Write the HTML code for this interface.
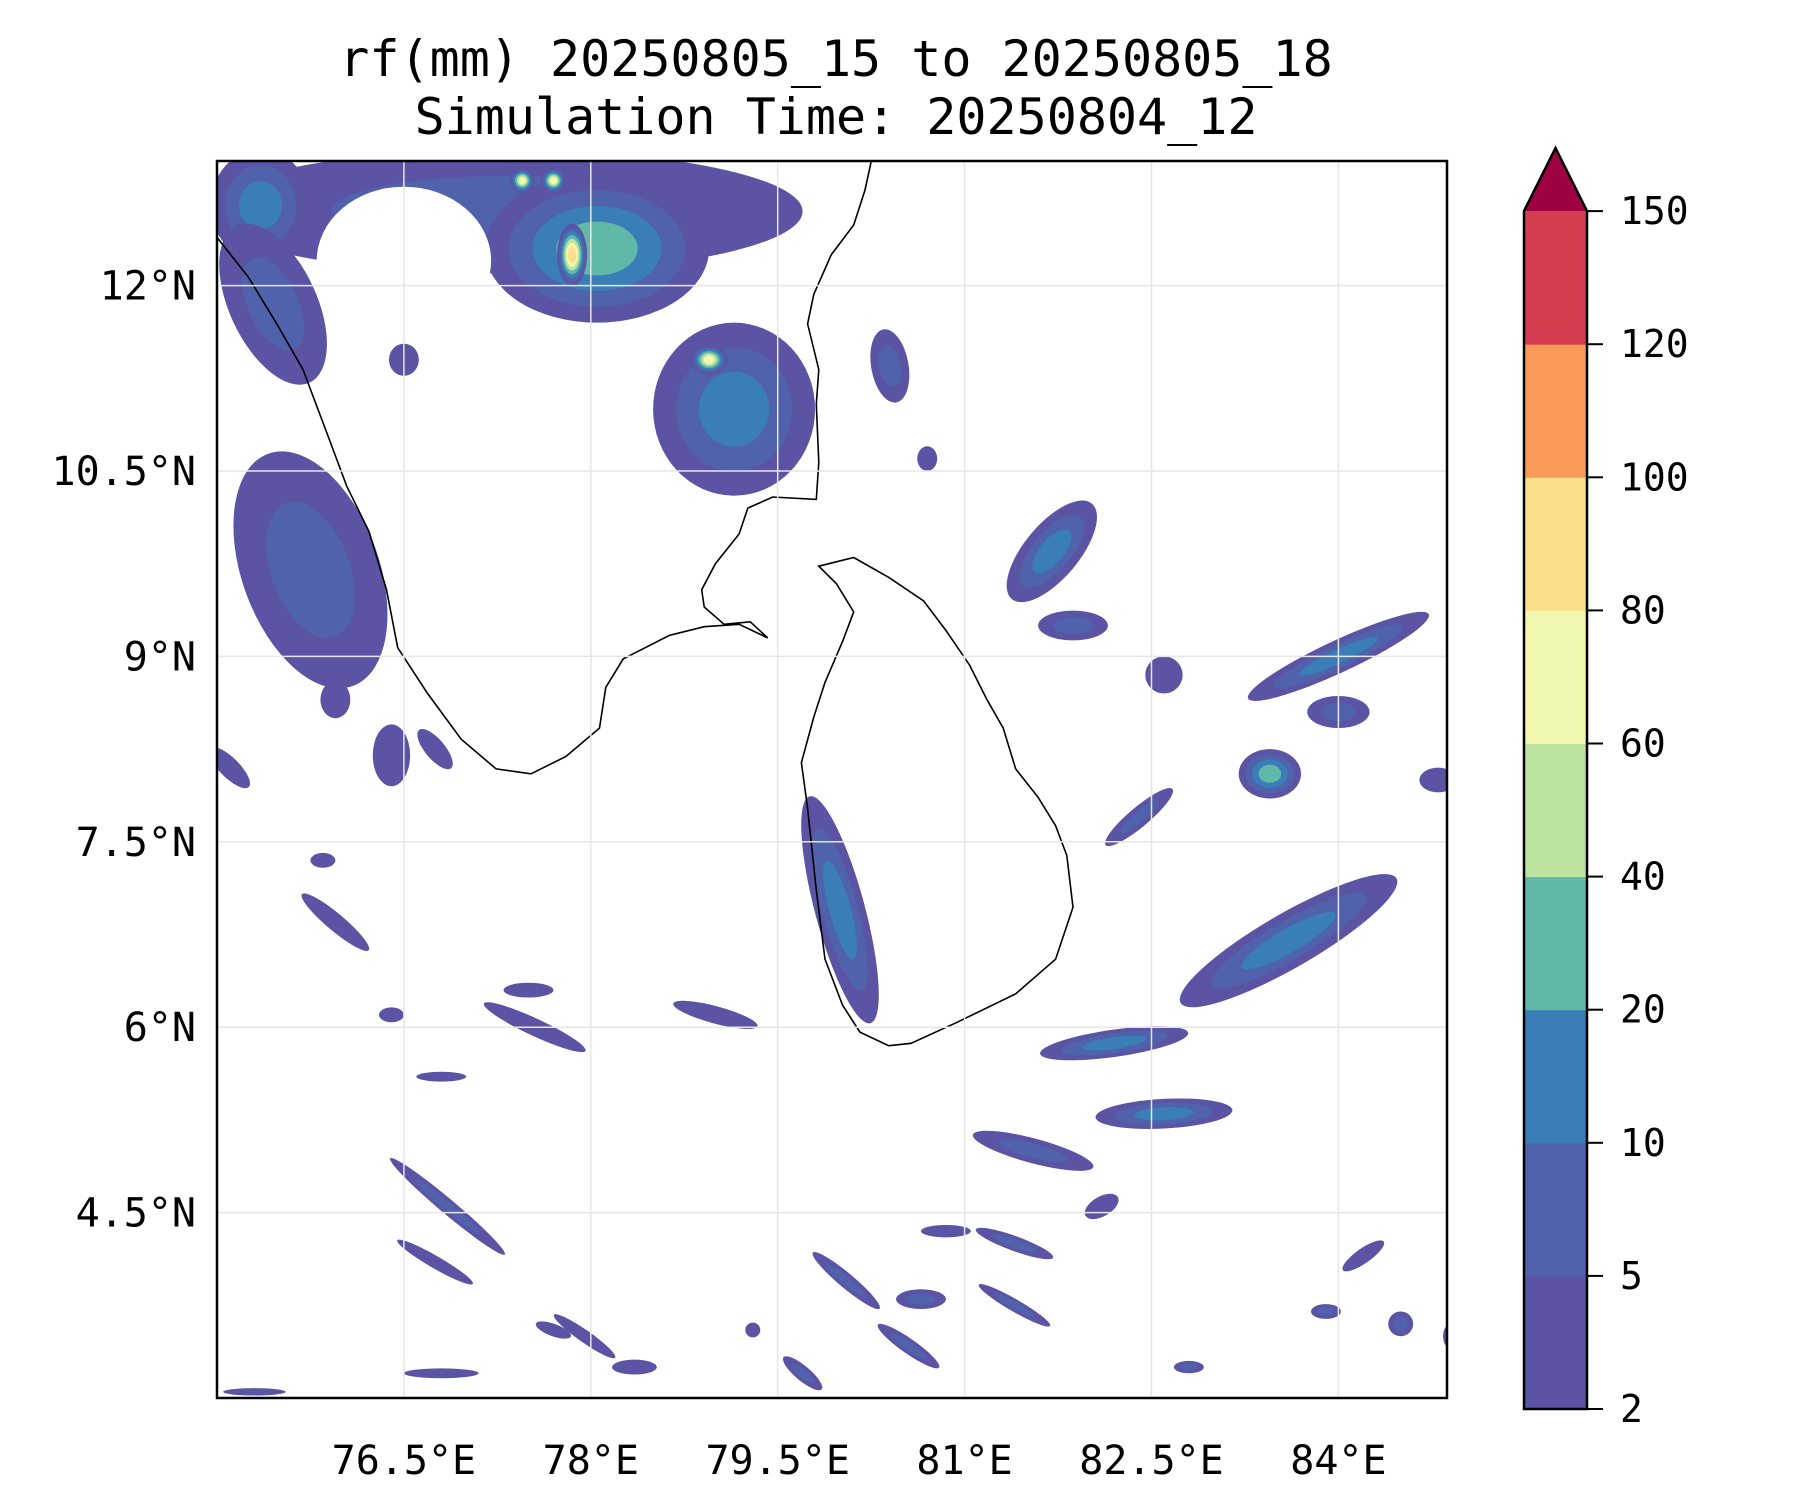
<!DOCTYPE html>
<html><head><meta charset="utf-8"><style>
html,body{margin:0;padding:0;background:#fff}
svg{display:block;font-family:"DejaVu Sans Mono","Liberation Mono",monospace}
</style></head><body>
<svg id="chart" xmlns="http://www.w3.org/2000/svg" width="1800" height="1500" viewBox="0 0 1800 1500">
<rect width="1800" height="1500" fill="#fff"/>
<g font-size="50" text-anchor="middle" fill="#000">
<text x="836" y="76">rf(mm) 20250805_15 to 20250805_18</text>
<text x="836" y="134">Simulation Time: 20250804_12</text>
</g>
<defs><clipPath id="mapclip"><rect x="217" y="161" width="1230" height="1237"/></clipPath></defs>
<g id="map" clip-path="url(#mapclip)"></g>
<g id="grid"></g>
<rect x="217" y="161" width="1230" height="1237" fill="none" stroke="#000" stroke-width="2.5"/>
<g id="axes" font-size="40" fill="#000"></g>
<g id="cbar"></g>
</svg>
<script>
const lonTicks=[76.5,78,79.5,81,82.5,84];
const lonTickLabels=["76.5°E","78°E","79.5°E","81°E","82.5°E","84°E"];
const latTicks=[12,10.5,9,7.5,6,4.5];
const latTickLabels=["12°N","10.5°N","9°N","7.5°N","6°N","4.5°N"];
const cbarBounds=[2,5,10,20,40,60,80,100,120,150];
const cbarColors=["#5b53a3","#4f62ab","#3a7eb8","#5fb8a8","#bde3a0","#f2f7b0","#fbdf8c","#f99a5b","#d43d4f"];
const cbarExtendColor="#9e0142";
const indiaLon=[75.0,75.25,75.48,75.69,75.9,76.04,76.22,76.36,76.45,76.69,76.96,77.24,77.52,77.8,78.07,78.12,78.26,78.63,78.91,79.19,79.42,79.28,79.07,78.91,78.89,79.0,79.19,79.26,79.46,79.81,79.83,79.81,79.83,79.74,79.79,79.93,80.11,80.2,80.25];
const indiaLat=[12.39,12.07,11.69,11.32,10.76,10.38,10.01,9.54,9.07,8.7,8.33,8.09,8.05,8.19,8.42,8.75,8.98,9.17,9.24,9.26,9.15,9.28,9.26,9.4,9.54,9.75,9.99,10.2,10.29,10.27,10.57,11.04,11.32,11.69,11.93,12.25,12.49,12.77,13.0];
const lankaLon=[79.83,80.11,80.39,80.67,80.85,81.04,81.18,81.31,81.41,81.59,81.73,81.82,81.87,81.73,81.41,80.94,80.57,80.39,80.16,80.02,79.88,79.81,79.74,79.69,79.79,79.88,80.02,80.11,79.97];
const lankaLat=[9.73,9.8,9.64,9.45,9.21,8.93,8.65,8.42,8.09,7.86,7.63,7.39,6.97,6.55,6.27,6.04,5.87,5.85,5.96,6.18,6.55,7.11,7.77,8.14,8.51,8.79,9.12,9.36,9.59];
// rain cells: centre lon/lat, radii (deg), orientation (deg, counter-clockwise), rain level index (-1 = dry)
const cellLon=[77.3,75.35,75.45,78.05,77.85,77.45,77.7,76.5,79.15,78.95,76.5,80.4,75.75,75.95,76.4,76.75,75.1,81.7,81.87,80.0,84.0,84.0,83.45,82.4,83.6,84.8,82.2,82.6,81.55,79.0,77.55,77.5,75.95,76.85,76.75,77.95,80.05,80.55,81.4,81.4,84.2,82.8,76.8,80.85,80.65,83.9,75.85,76.8,76.4,82.6,82.1,84.5,77.7,78.35,79.3,79.7,75.3,84.9,80.7];
const cellLat=[12.6,12.65,11.85,12.3,12.25,12.85,12.85,12.2,11.0,11.4,11.4,11.35,9.7,8.65,8.2,8.25,8.1,9.85,9.25,6.95,9.0,8.55,8.05,7.7,6.7,8.0,5.87,5.3,5.0,6.1,6.0,6.3,6.85,4.55,4.1,3.5,3.95,3.42,4.25,3.75,4.15,3.25,3.2,4.35,3.8,3.7,7.35,5.6,6.1,8.85,4.55,3.6,3.55,3.25,3.55,3.2,3.05,3.5,10.6];
const cellRx=[2.4,0.4,0.35,0.9,0.12,0.1,0.1,0.7,0.65,0.15,0.12,0.15,0.55,0.12,0.15,0.2,0.22,0.5,0.28,0.2,0.8,0.25,0.25,0.35,1.0,0.15,0.6,0.55,0.5,0.35,0.45,0.2,0.35,0.6,0.35,0.3,0.35,0.3,0.33,0.33,0.2,0.12,0.3,0.2,0.2,0.12,0.1,0.2,0.1,0.15,0.15,0.1,0.15,0.18,0.06,0.2,0.25,0.06,0.08];
const cellRy=[0.5,0.45,0.7,0.6,0.25,0.1,0.1,0.6,0.7,0.12,0.13,0.3,1.0,0.15,0.25,0.08,0.08,0.22,0.12,0.95,0.13,0.13,0.2,0.08,0.22,0.1,0.11,0.12,0.1,0.07,0.07,0.06,0.07,0.06,0.05,0.05,0.06,0.06,0.06,0.05,0.06,0.05,0.04,0.05,0.08,0.06,0.06,0.04,0.06,0.15,0.08,0.1,0.05,0.06,0.06,0.06,0.03,0.1,0.1];
const cellAngle=[0,0,25,0,0,0,0,0,0,0,0,10,20,0,0,-50,-45,50,0,15,25,0,0,40,30,0,8,3,-15,-15,-25,0,-40,-40,-30,-35,-40,-35,-20,-30,35,0,0,0,0,0,0,0,0,0,30,0,-20,0,0,-40,0,0,0];
const cellLevel=[1,2,1,3,6,5,5,-1,2,5,0,1,1,0,0,0,0,2,1,2,2,1,3,1,2,0,2,2,1,0,0,0,0,1,0,0,1,1,1,1,0,1,0,0,1,1,0,0,0,0,0,1,0,0,0,1,0,0,0];

const NS="http://www.w3.org/2000/svg";
const X=lon=>217+(lon-75)*124.6;
const Y=lat=>162+(13-lat)*123.6;
function mk(tag,attrs,parent){const e=document.createElementNS(NS,tag);for(const k in attrs)e.setAttribute(k,attrs[k]);parent.appendChild(e);return e;}
const mapG=document.getElementById('map'),gridG=document.getElementById('grid'),axesG=document.getElementById('axes'),cbarG=document.getElementById('cbar');

for(let i=0;i<cellLon.length;i++){
  const L=cellLevel[i],cx=X(cellLon[i]),cy=Y(cellLat[i]),rx=cellRx[i]*124.6,ry=cellRy[i]*123.6;
  const g=mk('g',{transform:`rotate(${-cellAngle[i]} ${cx} ${cy})`},mapG);
  
  
  if(L<0){mk('ellipse',{cx,cy,rx,ry,fill:'#fff'},g);continue;}
  for(let k=0;k<=L;k++){
    const s=1-k/(L+1)*0.85;
    mk('ellipse',{cx,cy,rx:rx*s,ry:ry*s,fill:cbarColors[k]},g);
  }
}
function coast(lons,lats,closed,name){
  const d=lons.map((v,i)=>(i?'L':'M')+X(v).toFixed(1)+' '+Y(lats[i]).toFixed(1)).join(' ')+(closed?'Z':'');
  const p=mk('path',{d,fill:'none',stroke:'#000','stroke-width':1.6},mapG);
  
  
}
coast(indiaLon,indiaLat,false,'india-coastline');
coast(lankaLon,lankaLat,true,'sri-lanka-coastline');

lonTicks.forEach((v,i)=>{
  const l=mk('line',{x1:X(v),x2:X(v),y1:161,y2:1398,stroke:'#e6e6e6','stroke-width':1.5},gridG);
  
  
  const t=mk('text',{x:X(v),y:1474,'text-anchor':'middle'},axesG);
  t.textContent=lonTickLabels[i];
  
  
});
latTicks.forEach((v,i)=>{
  const l=mk('line',{x1:217,x2:1447,y1:Y(v),y2:Y(v),stroke:'#e6e6e6','stroke-width':1.5},gridG);
  
  
  const t=mk('text',{x:196,y:Y(v)+14,'text-anchor':'end'},axesG);
  t.textContent=latTickLabels[i];
  
  
});

const cbX0=1524,cbX1=1587,cbY0=1409,cbStep=133.1,cbN=cbarBounds.length-1;
for(let i=0;i<cbN;i++){
  const r=mk('rect',{x:cbX0,y:cbY0-(i+1)*cbStep,width:cbX1-cbX0,height:cbStep+0.5,fill:cbarColors[i]},cbarG);
  
  
}
const cbTop=cbY0-cbN*cbStep;
const tri=mk('polygon',{points:`${cbX0},${cbTop} ${cbX1},${cbTop} ${(cbX0+cbX1)/2},148`,fill:cbarExtendColor},cbarG);


const outline=mk('path',{d:`M${cbX0} ${cbY0} L${cbX0} ${cbTop} L${(cbX0+cbX1)/2} 148 L${cbX1} ${cbTop} L${cbX1} ${cbY0} Z`,fill:'none',stroke:'#000','stroke-width':2.5},cbarG);


cbarBounds.forEach((v,i)=>{
  const y=cbY0-i*cbStep;
  const tk=mk('line',{x1:cbX1,x2:cbX1+16,y1:y,y2:y,stroke:'#000','stroke-width':2},cbarG);
  
  
  const t=mk('text',{x:1620,y:y+13,'font-size':38},cbarG);
  t.textContent=v;
  
  
});
</script>
</body></html>
